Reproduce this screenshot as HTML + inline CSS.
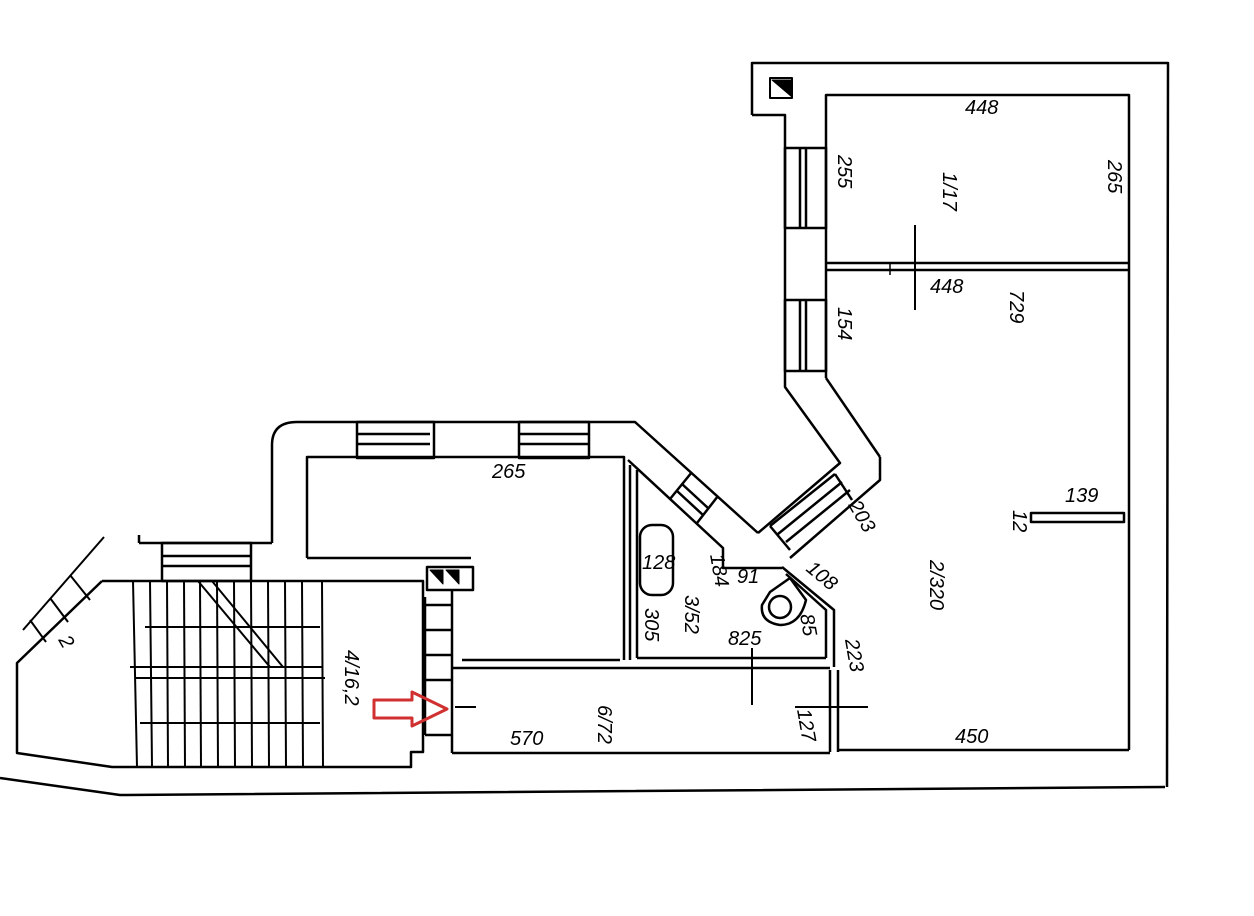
<!DOCTYPE html>
<html><head><meta charset="utf-8"><style>
html,body{margin:0;padding:0;background:#fff;}
svg{display:block}
text{font-family:"Liberation Sans",sans-serif;font-style:italic;font-size:20px;fill:#000}
</style></head><body>
<svg width="1254" height="916" viewBox="0 0 1254 916" xmlns="http://www.w3.org/2000/svg">
<g fill="none" stroke="#000" stroke-width="2.5" stroke-linejoin="round">
<polyline points="752,115 752,63 1168,63 1167,787"/>
<polyline points="752,115 785,115 785,387 840,463 758,533"/>
<polyline points="826,378 826,95 1129,95 1129,750"/>
<line x1="826" y1="263" x2="1129" y2="263"/>
<line x1="826" y1="270" x2="1129" y2="270"/>
<line x1="915" y1="225" x2="915" y2="310" stroke-width="2"/>
<line x1="890" y1="263" x2="890" y2="275" stroke-width="1.5"/>
<rect x="785" y="148" width="41" height="80"/>
<line x1="800" y1="148" x2="800" y2="228"/><line x1="806" y1="148" x2="806" y2="228"/>
<rect x="785" y="300" width="41" height="71"/>
<line x1="800" y1="300" x2="800" y2="371"/><line x1="806" y1="300" x2="806" y2="371"/>
<line x1="826" y1="378" x2="880" y2="457"/>
<polyline points="880,457 880,480 790,558"/>
<line x1="770" y1="526" x2="835" y2="474"/>
<line x1="778" y1="534" x2="842" y2="482"/>
<line x1="786" y1="542" x2="850" y2="490"/>
<line x1="770" y1="526" x2="790" y2="550"/>
<line x1="835" y1="474" x2="852" y2="500"/>
<rect x="1031" y="513" width="93" height="9"/>
<line x1="838" y1="750" x2="1129" y2="750"/>
<line x1="830" y1="670" x2="830" y2="752"/>
<line x1="838" y1="670" x2="838" y2="752"/>
<line x1="795" y1="707" x2="868" y2="707" stroke-width="2"/>
<polyline points="0,778 120,795 1165,787"/>
<path d="M272,543 L272,445 Q272,422 297,422 L635,422 L758,533"/>
<line x1="139" y1="543" x2="272" y2="543"/>
<line x1="139" y1="543" x2="139" y2="535"/>
<rect x="162" y="543" width="89" height="38"/>
<line x1="162" y1="556" x2="251" y2="556"/><line x1="162" y1="566" x2="251" y2="566"/>
<rect x="357" y="422" width="77" height="36"/>
<line x1="357" y1="434" x2="430" y2="434"/><line x1="357" y1="444" x2="430" y2="444"/>
<rect x="519" y="422" width="70" height="36"/>
<line x1="519" y1="434" x2="589" y2="434"/><line x1="519" y1="444" x2="589" y2="444"/>
<polyline points="307,558 307,457 624,457 624,660"/>
<line x1="307" y1="558" x2="471" y2="558"/>
<polyline points="628,460 723,548 723,568 782,568"/>
<line x1="692" y1="472" x2="670" y2="499"/>
<line x1="718" y1="496" x2="697" y2="523"/>
<line x1="682" y1="484" x2="708" y2="508"/>
<line x1="677" y1="491" x2="703" y2="515"/>
<line x1="630" y1="465" x2="630" y2="660"/>
<line x1="637" y1="470" x2="637" y2="658"/>
<line x1="637" y1="658" x2="826" y2="658"/>
<polyline points="782,567 834,610 834,667"/>
<polyline points="786,574 826,610 826,658"/>
<rect x="640" y="525" width="33" height="70" rx="12"/>
<circle cx="780" cy="607" r="11"/>
<path d="M770,592 L790,578 L806,600 Q800,625 780,625 Q760,622 762,605 Z"/>
<line x1="452" y1="668" x2="830" y2="668"/>
<line x1="462" y1="660" x2="620" y2="660"/>
<line x1="452" y1="590" x2="452" y2="753"/>
<line x1="452" y1="753" x2="830" y2="753"/>
<line x1="752" y1="648" x2="752" y2="705" stroke-width="2"/>
<line x1="455" y1="707" x2="476" y2="707" stroke-width="2"/>
<rect x="427" y="567" width="46" height="23"/>
<path d="M430,570 L443,570 L443,584 Z M446,570 L459,570 L459,584 Z" fill="#000" stroke-width="1"/>
<path d="M772,80 L792,80 L792,97 Z" fill="#000" stroke-width="1"/>
<rect x="770" y="78" width="22" height="20" stroke-width="2"/>
<line x1="425" y1="597" x2="425" y2="735"/>
<line x1="425" y1="605" x2="452" y2="605"/><line x1="425" y1="630" x2="452" y2="630"/>
<line x1="425" y1="655" x2="452" y2="655"/><line x1="425" y1="680" x2="452" y2="680"/>
<line x1="425" y1="735" x2="452" y2="735"/>
<polyline points="102,581 423,581 423,752 411,752 411,767 112,767 17,753 17,663 102,581"/>
<g stroke-width="2">
<line x1="133" y1="581" x2="137" y2="767"/><line x1="150" y1="581" x2="152" y2="767"/>
<line x1="167" y1="581" x2="168" y2="767"/><line x1="184" y1="581" x2="185" y2="767"/>
<line x1="200" y1="581" x2="201" y2="767"/><line x1="217" y1="581" x2="218" y2="767"/>
<line x1="234" y1="581" x2="235" y2="767"/><line x1="251" y1="581" x2="252" y2="767"/>
<line x1="268" y1="581" x2="269" y2="767"/><line x1="285" y1="581" x2="286" y2="767"/>
<line x1="302" y1="581" x2="303" y2="767"/><line x1="322" y1="581" x2="323" y2="767"/>
<line x1="130" y1="667" x2="322" y2="667"/><line x1="135" y1="678" x2="325" y2="678"/>
<line x1="145" y1="627" x2="320" y2="627"/><line x1="140" y1="723" x2="320" y2="723"/>
<line x1="198" y1="581" x2="270" y2="667"/><line x1="212" y1="581" x2="283" y2="667"/>
</g>
<line x1="104" y1="537" x2="23" y2="630" stroke-width="2"/>
<line x1="70" y1="575" x2="90" y2="600" stroke-width="2"/>
<line x1="50" y1="598" x2="68" y2="622" stroke-width="2"/>
<line x1="30" y1="620" x2="46" y2="642" stroke-width="2"/>
<path d="M374,700 L412,700 L412,692 L447,709 L412,726 L412,718 L374,718 Z" stroke="#d03030" stroke-width="3"/>
</g>
<text x="965" y="114">448</text>
<text x="930" y="293">448</text>
<text x="492" y="478">265</text>
<text x="510" y="745">570</text>
<text x="955" y="743">450</text>
<text x="1065" y="502">139</text>
<text x="642" y="569" font-size="17">128</text>
<text x="737" y="583" font-size="17">91</text>
<text x="728" y="645" font-size="17">825</text>
<text transform="translate(838,155) rotate(90)">255</text>
<text transform="translate(838,307) rotate(90)">154</text>
<text transform="translate(1108,160) rotate(90)">265</text>
<text transform="translate(1010,290) rotate(90)">729</text>
<text transform="translate(943,172) rotate(90)" font-size="22">1/17</text>
<text transform="translate(930,560) rotate(90)" font-size="22">2/320</text>
<text transform="translate(1013,510) rotate(90)" font-size="17">12</text>
<text transform="translate(848,505) rotate(60)" font-size="17">203</text>
<text transform="translate(805,570) rotate(40)" font-size="17">108</text>
<text transform="translate(710,555) rotate(80)" font-size="17">184</text>
<text transform="translate(645,608) rotate(90)" font-size="17">305</text>
<text transform="translate(685,595) rotate(90)" font-size="22">3/52</text>
<text transform="translate(800,615) rotate(80)" font-size="17">85</text>
<text transform="translate(845,640) rotate(80)" font-size="17">223</text>
<text transform="translate(797,710) rotate(80)" font-size="17">127</text>
<text transform="translate(598,705) rotate(90)" font-size="22">6/72</text>
<text transform="translate(345,650) rotate(90)" font-size="22">4/16,2</text>
<text transform="translate(58,640) rotate(60)" font-size="20">2</text>
</svg>
</body></html>
